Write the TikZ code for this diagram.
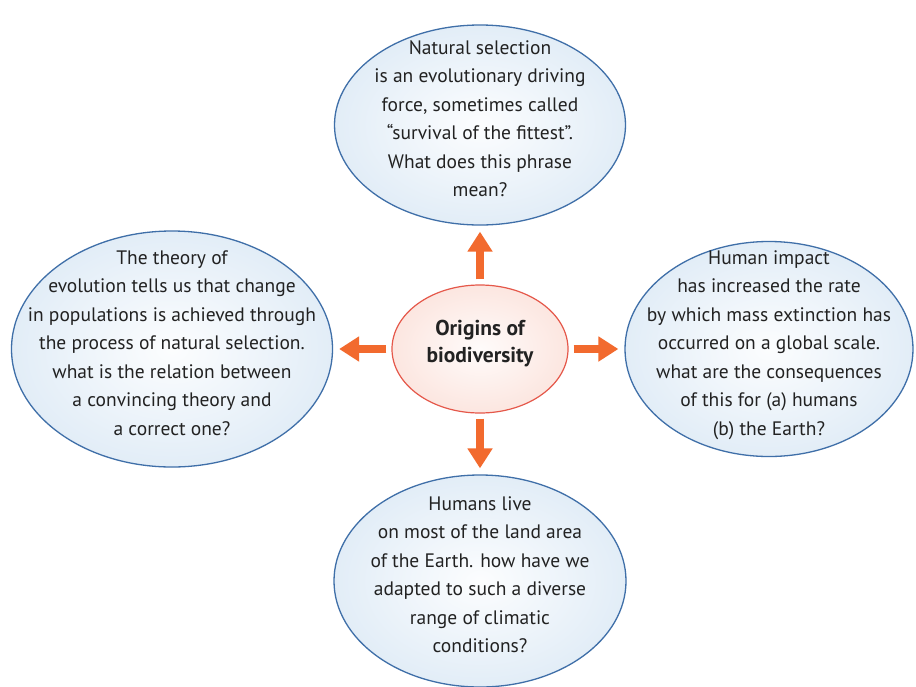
\documentclass[tikz,border=0pt]{standalone}
\usepackage{fontspec}
\setmainfont{PT Sans}
\usetikzlibrary{shapes.geometric,arrows.meta}
\definecolor{qborder}{HTML}{3F6FA8}
\definecolor{qfill}{HTML}{E2EDF7}
\definecolor{hubborder}{HTML}{E5584A}
\definecolor{hubfill}{HTML}{FCE6E0}
\definecolor{arroworange}{HTML}{F26A2E}
\definecolor{qink}{HTML}{222222}
\newcommand{\ovaltext}[1]{\makebox[0pt]{\smash{\begin{tabular}{@{}c@{}}#1\end{tabular}}}}
\tikzset{
  question/.style={ellipse, draw=qborder, line width=1.3pt, inner color=white!90!qfill, outer color=qfill, text=qink, inner sep=0pt, font=\fontsize{19.5}{28.5}\selectfont},
  hub/.style={ellipse, draw=hubborder, line width=1.2pt, inner color=white!85!hubfill, outer color=hubfill, text=qink, inner sep=0pt, minimum width=176pt, minimum height=128pt, font=\fontsize{21.5}{27}\selectfont\bfseries},
  bigarrow/.style={draw=arroworange, line width=8pt, -{Triangle[length=20pt,width=24pt]}, shorten <=5pt, shorten >=6pt}
}
\begin{document}
\begin{tikzpicture}[x=1pt,y=-1pt]
\useasboundingbox[fill=white] (0,0) rectangle (916,686);
\node[hub] (hub) at (480,349) {\ovaltext{Origins of\\biodiversity}};
\node[question, minimum width=291pt, minimum height=200pt] (top) at (480,125) {\ovaltext{Natural selection\\is an evolutionary driving\\force, sometimes called\\“survival of the fittest”.\\What does this phrase\\mean?}};
\node[question, minimum width=321pt, minimum height=236pt] (left) at (172,349) {\ovaltext{The theory of\\evolution tells us that change\\in populations is achieved through\\the process of natural selection.\\what is the relation between\\a convincing theory and\\a correct one?}};
\node[question, minimum width=288pt, minimum height=215pt] (right) at (769,349) {\ovaltext{Human impact\\has increased the rate\\by which mass extinction has\\occurred on a global scale.\\what are the consequences\\of this for (a) humans\\(b) the Earth?}};
\node[question, minimum width=292pt, minimum height=212pt] (bottom) at (480,581) {\ovaltext{Humans live\\on most of the land area\\of the Earth. how have we\\adapted to such a diverse\\range of climatic\\conditions?}};
\draw[bigarrow] (hub) -- (top);
\draw[bigarrow] (hub) -- (left);
\draw[bigarrow] (hub) -- (right);
\draw[bigarrow] (hub) -- (bottom);
\end{tikzpicture}
\end{document}
